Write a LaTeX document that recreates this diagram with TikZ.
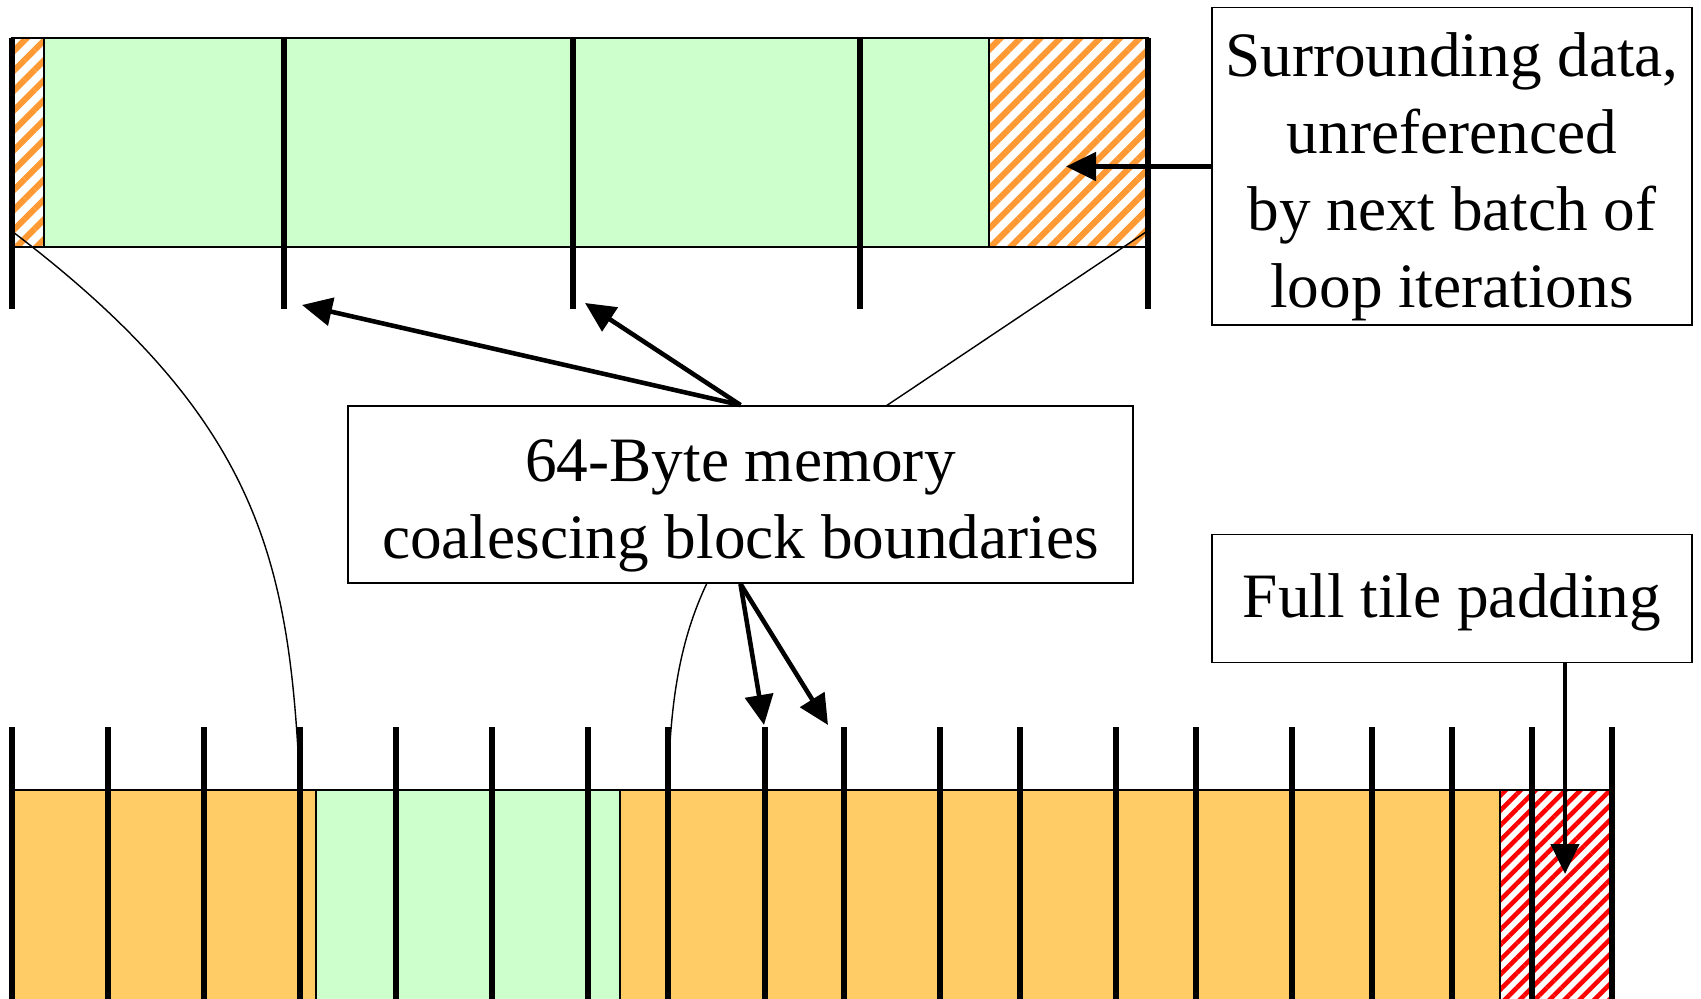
\documentclass[tikz,border=0pt]{standalone}
\usepackage{fontspec}
\setmainfont{Liberation Serif}
\usetikzlibrary{arrows.meta,patterns.meta,positioning}
\definecolor{cellgreen}{HTML}{CCFFCC}
\definecolor{cellorange}{HTML}{FFCC66}
\definecolor{hatchorange}{HTML}{FF9933}
\newcommand{\topgap}[1]{\rule{0pt}{#1}}

\begin{document}
\begin{tikzpicture}[x=0.02cm, y=-0.02cm,
  box/.style={rectangle, draw, line width=1.1pt, fill=white, align=center,
    font=\fontsize{36}{44}\selectfont, inner sep=0pt},
  boundary/.style={line width=3.2pt},
  guide/.style={line width=0.8pt},
  ptr/.style={line width=2.6pt, -{Triangle[length=0.6cm,width=0.56cm]}},
  oldhatch/.style={pattern={Lines[angle=45,distance=8pt,line width=3.5pt]}, pattern color=hatchorange},
  padhatch/.style={pattern={Lines[angle=45,distance=6pt,line width=2.6pt]}, pattern color=red}
]
\useasboundingbox (0,0) rectangle (1701,999);
% top row: data of one batch of loop iterations
\fill[oldhatch] (12,38) rectangle (44,247);
\fill[cellgreen] (44,38) rectangle (989,247);
\fill[oldhatch] (989,38) rectangle (1148,247);
\draw[guide] (12,38) rectangle (1148,247);
\draw[guide] (44,38) -- (44,247) (989,38) -- (989,247);
\foreach \x in {12,284,573,860,1148}
  \draw[boundary] (\x,38) -- (\x,309);
% bottom row: the whole tile
\fill[cellorange] (12,790) rectangle (1500,1010);
\fill[cellgreen] (316,790) rectangle (620,1010);
\fill[padhatch] (1500,790) rectangle (1612,1010);
\draw[guide] (12,1010) -- (12,790) -- (1612,790) -- (1612,1010);
\draw[guide] (316,790) -- (316,1010) (620,790) -- (620,1010) (1500,790) -- (1500,1010);
\foreach \x in {12,108,204,300,396,492,588,668,765,844,940,1020,1116,1196,1292,1372,1452,1532,1612}
  \draw[boundary] (\x,727) -- (\x,1010);
% labels
\node[box, minimum width=15.7cm, minimum height=3.54cm] (coal) at (740.5,494.5)
  {\topgap{1.28cm}64-Byte memory\\coalescing block boundaries};
\node[box, minimum width=9.6cm, minimum height=6.36cm] (surr) at (1452,166.5)
  {\topgap{1.29cm}Surrounding data,\\unreferenced\\by next batch of\\loop iterations};
\node[box, minimum width=9.6cm, minimum height=2.56cm] (pad) at (1452,598.5)
  {\topgap{1.05cm}Full tile padding};
% ends of the connectors
\coordinate (topL) at (13,232);
\coordinate (topR) at (1146,232);
\coordinate (botL) at (300,790);
\coordinate (botR) at (668,790);
\coordinate (coalin) at (886,406);
\coordinate (coalout) at (707,583);
\coordinate (upA) at (302,305);
\coordinate (upB) at (585,303);
\coordinate (downA) at (764,725);
\coordinate (downB) at (828,725);
\coordinate (oldtip) at (1066,166.5);
\coordinate (padtip) at (1565,874);
% zoom lines
\draw[guide] (topL) .. controls (260,420) and (290,560) .. (botL);
\draw[guide] (topR) -- (coalin);
\draw[guide] (coalout) .. controls (680,640) and (670,700) .. (botR);
% arrows
\draw[ptr] (coal.north) -- (upA);
\draw[ptr] (coal.north) -- (upB);
\draw[ptr] (coal.south) -- (downA);
\draw[ptr] (coal.south) -- (downB);
\draw[ptr] (surr.west) -- (oldtip);
\draw[ptr] (pad.south -| padtip) -- (padtip);
\end{tikzpicture}
\end{document}
